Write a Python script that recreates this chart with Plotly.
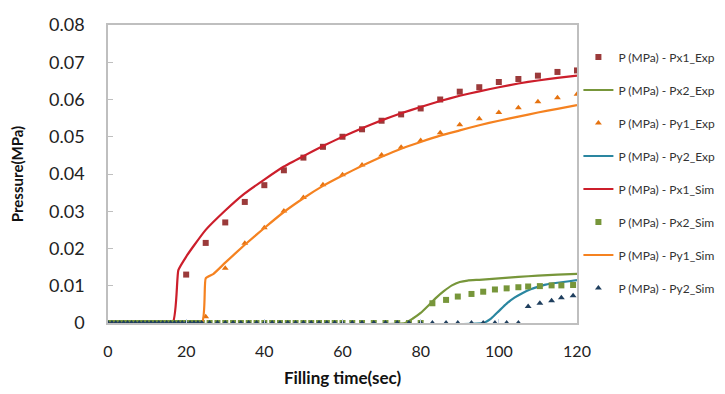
import plotly.graph_objects as go

# ---- data ----
t_exp = [0, 5, 10, 15, 20, 25, 30, 35, 40, 45, 50, 55, 60, 65, 70, 75, 80, 85, 90, 95, 100, 105, 110, 115, 120]
px1_exp = [0, 0, 0, 0, 0.0130, 0.0215, 0.0270, 0.0325, 0.0370, 0.0410, 0.0444, 0.0473, 0.0500, 0.0520, 0.0543,
           0.0560, 0.0576, 0.0600, 0.0621, 0.0633, 0.0647, 0.0655, 0.0664, 0.0674, 0.0678]
py1_exp = [0, 0, 0, 0, 0, 0.0017, 0.0147, 0.0214, 0.0256, 0.0301, 0.0337, 0.0371, 0.0398, 0.0424, 0.0451,
           0.0472, 0.0490, 0.0511, 0.0532, 0.0548, 0.0565, 0.0578, 0.0594, 0.0605, 0.0614]

t_px2_line = [0, 76, 78, 80, 82, 84, 86, 88, 90, 92, 95, 100, 105, 110, 115, 120]
px2_exp = [0, 0, 0.0012, 0.0027, 0.0047, 0.0068, 0.0086, 0.0101, 0.0110, 0.0114, 0.0116, 0.0120, 0.0124,
           0.0127, 0.0130, 0.0132]

t_py2_line = [0, 96, 98, 100, 102, 104, 106, 108, 110, 112, 115, 118, 120]
py2_exp = [0, 0, 0.0012, 0.0032, 0.0052, 0.0068, 0.0080, 0.0090, 0.0097, 0.0103, 0.0108, 0.0112, 0.0115]

t_px1_sim = [0, 16.5, 18, 20, 22, 25, 30, 35, 40, 45, 50, 55, 60, 65, 70, 75, 80, 85, 90, 95, 100, 105, 110, 115, 120]
px1_sim = [0, 0, 0.0142, 0.0178, 0.0208, 0.0250, 0.0302, 0.0348, 0.0385, 0.0420, 0.0448, 0.0475, 0.0500,
           0.0523, 0.0544, 0.0563, 0.0580, 0.0596, 0.0610, 0.0622, 0.0633, 0.0643, 0.0651, 0.0658, 0.0664]

t_py1_sim = [0, 24, 25, 27, 30, 35, 40, 45, 50, 55, 60, 65, 70, 75, 80, 85, 90, 95, 100, 105, 110, 115, 120]
py1_sim = [0, 0, 0.0120, 0.0132, 0.0162, 0.0210, 0.0255, 0.0298, 0.0335, 0.0368, 0.0396, 0.0422, 0.0446,
           0.0468, 0.0486, 0.0503, 0.0517, 0.0531, 0.0543, 0.0554, 0.0565, 0.0575, 0.0585]

t_sim_pts = [0, 1, 2, 3, 4, 5, 6, 7, 8, 9, 10, 11, 12, 13, 14, 15, 16, 17, 18, 19, 20, 21, 22, 23, 24,
             26, 28, 30, 32, 34, 36, 38, 40, 42, 44, 46, 48, 50, 52, 54, 56, 58,
             60, 62.5, 65, 68, 71, 74, 77, 80, 83, 86.5, 89.5, 93, 96, 99, 102, 105, 107.5, 110.5, 113.5,
             116, 119]
px2_sim = [0] * 50 + [0.0053, 0.0062, 0.0071, 0.0078, 0.0084, 0.0090, 0.0093, 0.0096, 0.0098, 0.0099,
                      0.0101, 0.0101, 0.0102]
py2_sim = [0] * 58 + [0.0044, 0.0053, 0.0060, 0.0068, 0.0073]

y_ticks = [0, 0.01, 0.02, 0.03, 0.04, 0.05, 0.06, 0.07, 0.08]
y_tick_text = ["0", "0.01", "0.02", "0.03", "0.04", "0.05", "0.06", "0.07", "0.08"]
x_ticks = [0, 20, 40, 60, 80, 100, 120]

fig = go.Figure()

def add_markers(x, y, name, color, symbol, grp):
    fig.add_trace(go.Scatter(x=x, y=y, mode="markers", name=name, legendgroup=grp,
                             marker=dict(color=color, symbol=symbol, size=6, line=dict(width=0))))

def add_line(x, y, name, color, grp):
    fig.add_trace(go.Scatter(x=x, y=y, mode="lines", name=name, legendgroup=grp,
                             line=dict(color=color, width=2.2, shape="spline", smoothing=0.4)))

add_markers(t_exp, px1_exp, "P (MPa) - Px1_Exp", "#9B3A3A", "square", "g1")
add_line(t_px2_line, px2_exp, "P (MPa) - Px2_Exp", "#77963A", "g2")
add_markers(t_exp, py1_exp, "P (MPa) - Py1_Exp", "#E5720F", "triangle-up", "g3")
add_line(t_py2_line, py2_exp, "P (MPa) - Py2_Exp", "#2A86A0", "g4")
add_line(t_px1_sim, px1_sim, "P (MPa) - Px1_Sim", "#CC1E2B", "g5")
add_markers(t_sim_pts, px2_sim, "P (MPa) - Px2_Sim", "#77963A", "square", "g6")
add_line(t_py1_sim, py1_sim, "P (MPa) - Py1_Sim", "#F58220", "g7")
add_markers(t_sim_pts, py2_sim, "P (MPa) - Py2_Sim", "#1F3F5E", "triangle-up", "g8")

fig.update_layout(
    width=717, height=386,
    margin=dict(l=100, r=148, t=17, b=71, autoexpand=False),
    paper_bgcolor="white", plot_bgcolor="white",
    font=dict(family="Lato, Open Sans, sans-serif", color="#222222"),
    showlegend=True,
    legend=dict(x=1.003, xanchor="left", y=0.505, yanchor="middle",
                font=dict(size=12, color="#333333"), tracegroupgap=14,
                itemwidth=30, bgcolor="rgba(0,0,0,0)"),
)
fig.update_xaxes(range=[0, 120], tickvals=x_ticks, ticks="inside", ticklen=4, automargin=False,
                 tickcolor="#C5D3E8", tickfont=dict(size=16, color="#222222"),
                 showgrid=False, zeroline=False, showline=True, linecolor="#BFBFBF", linewidth=1.5,
                 mirror=True, ticklabelstandoff=13,
                 title=dict(text="<b>Filling time(sec)</b>", font=dict(size=17, color="#111111"), standoff=13))
fig.update_yaxes(range=[0, 0.08], tickvals=y_ticks, ticktext=y_tick_text, ticks="inside", ticklen=5,
                 automargin=False,
                 tickcolor="#BFBFBF", tickfont=dict(size=18, color="#222222"),
                 showgrid=False, zeroline=False, showline=True, linecolor="#BFBFBF", linewidth=1.5,
                 mirror=True, ticklabelstandoff=18,
                 title=dict(text="<b>Pressure(MPa)</b>", font=dict(size=15, color="#111111"), standoff=25))

fig.write_html("out.html")
